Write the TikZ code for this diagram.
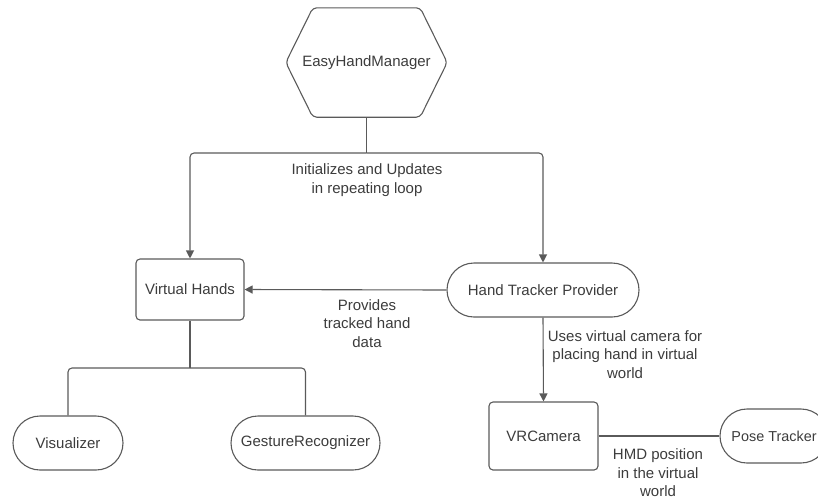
\documentclass[tikz,border=0pt]{standalone}
\usepackage{fontspec}
\setmainfont{Liberation Sans}
\usetikzlibrary{arrows.meta,shapes.misc}
\definecolor{ink}{HTML}{3C3C3C}
\definecolor{wire}{HTML}{5A5A5A}
\begin{document}
\begin{tikzpicture}[x=1pt,y=-1pt,
  every node/.style={font=\fontsize{15}{18.5}\selectfont, text=ink},
  box/.style={draw=wire, line width=1.1pt, rounded corners=4pt, align=center, inner sep=0pt},
  pill/.style={draw=wire, line width=1.1pt, rounded rectangle, align=center, inner sep=0pt},
  conn/.style={draw=wire, line width=1.1pt, rounded corners=4pt},
  tip/.style={-{Triangle[length=8pt,width=8pt]}},
  note/.style={align=center, inner sep=0pt}]
\useasboundingbox (0,0) rectangle (818,499);

% manager hexagon
\node[minimum width=161pt, minimum height=109pt, inner sep=0pt] (hex) at (366.5,62.5) {EasyHandManager};
\draw[draw=wire, line width=1.1pt, rounded corners=4pt]
  ([xshift=27pt]hex.north west) -- ([xshift=-27pt]hex.north east) -- (hex.east)
  -- ([xshift=-27pt]hex.south east) -- ([xshift=27pt]hex.south west) -- (hex.west) -- cycle;

% components
\node[box, minimum width=108pt, minimum height=61pt] (vh) at (190,289.5) {Virtual Hands};
\node[pill, minimum width=192pt, minimum height=54pt] (htp) at (543,290) {Hand Tracker Provider};
\node[pill, minimum width=110pt, minimum height=54pt] (vis) at (68,443) {Visualizer};
\node[pill, minimum width=149pt, minimum height=54pt] (gr) at (305.5,443) {GestureRecognizer};
\node[box, minimum width=109pt, minimum height=68pt] (vrc) at (543.5,436) {VRCamera};
\node[pill, minimum width=108pt, minimum height=54pt, font=\fontsize{14.4}{17}\selectfont] (pt) at (774,436) {Pose Tracker};

% connectors
\coordinate (split1) at (366.5,153);
\coordinate (split2) at (190,368);
\draw[conn] (hex.south) -- (split1);
\draw[conn,tip] (split1) -| (vh.north);
\draw[conn,tip] (split1) -| (htp.north);
\draw[conn,tip] (htp.west) -- (vh.east);
\draw[conn] (vh.south) -- (split2);
\draw[conn] (split2) -| (vis.north);
\draw[conn] (split2) -| (gr.north);
\draw[conn,tip] (htp.south) -- (vrc.north);
\draw[conn] (vrc.east) -- (pt.west);

% connector labels
\node[note] (l1) at (367,180) {Initializes and Updates\\in repeating loop};
\node[note] (l2) at (367,323.5) {Provides\\tracked hand\\data};
\node[note] (l3) at (625,354.5) {Uses virtual camera for\\placing hand in virtual\\world};
\node[note] (l4) at (658,473) {HMD position\\in the virtual\\world};
\end{tikzpicture}
\end{document}
